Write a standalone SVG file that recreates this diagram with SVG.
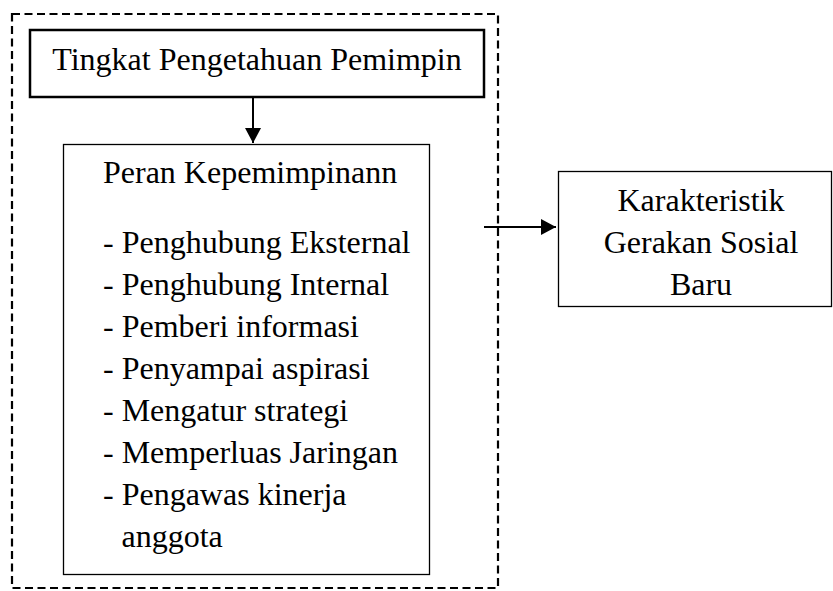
<svg xmlns="http://www.w3.org/2000/svg" width="833" height="591" viewBox="0 0 833 591">
<style>
text { font-family: "Liberation Serif", "Times New Roman", serif; font-size: 32px; fill: #000; }
.box { fill: #fff; stroke: #000; }
.conn { stroke: #000; stroke-width: 2; fill: none; }
</style>
<defs>
<marker id="arrow" markerUnits="userSpaceOnUse" markerWidth="16" markerHeight="16" viewBox="0 0 16 16" refX="15" refY="8" orient="auto">
<path d="M0,0 L15,8 L0,16 Z" fill="#000"/>
</marker>
</defs>
<rect width="833" height="591" fill="#fff"/>
<g id="group-frame">
<rect x="12" y="14" width="486" height="574" fill="none" stroke="#000" stroke-width="2.2" stroke-dasharray="8 4.5"/>
</g>
<g id="node-tingkat">
<rect class="box" x="30" y="30" width="454" height="67" stroke-width="2.5"/>
<text x="257" y="70" text-anchor="middle">Tingkat Pengetahuan Pemimpin</text>
</g>
<g id="node-peran">
<rect class="box" x="63.5" y="144.5" width="366" height="430" stroke-width="1.3"/>
<text x="103" y="183">Peran Kepemimpinann</text>
<text x="103" y="253">- Penghubung Eksternal</text>
<text x="103" y="295">- Penghubung Internal</text>
<text x="103" y="337">- Pemberi informasi</text>
<text x="103" y="379">- Penyampai aspirasi</text>
<text x="103" y="421">- Mengatur strategi</text>
<text x="103" y="463">- Memperluas Jaringan</text>
<text x="103" y="505">- Pengawas kinerja</text>
<text x="121.5" y="547">anggota</text>
</g>
<g id="node-karakteristik">
<rect class="box" x="558.5" y="171.5" width="273" height="135" stroke-width="1.3"/>
<text x="701" y="211" text-anchor="middle">Karakteristik</text>
<text x="701" y="253" text-anchor="middle">Gerakan Sosial</text>
<text x="701" y="295" text-anchor="middle">Baru</text>
</g>
<g id="connectors">
<line class="conn" x1="253" y1="97" x2="253" y2="143" marker-end="url(#arrow)"/>
<line class="conn" x1="484" y1="227" x2="556" y2="227" marker-end="url(#arrow)"/>
</g>
</svg>
